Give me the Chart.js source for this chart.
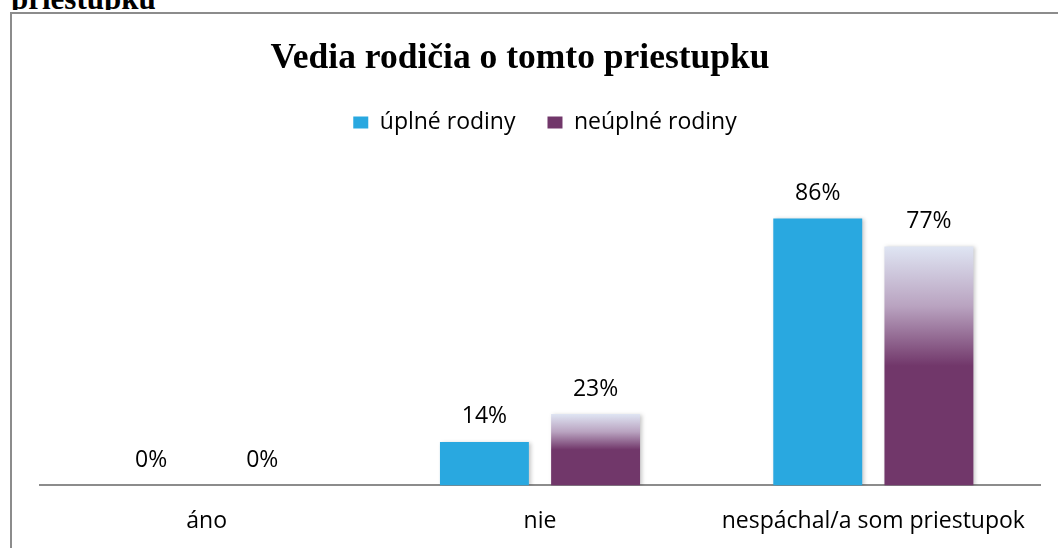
<!DOCTYPE html>
<html>
<head>
<meta charset="utf-8">
<script src="https://cdn.jsdelivr.net/npm/chart.js@4/dist/chart.umd.min.js"></script>
<style>
  html, body { margin: 0; padding: 0; width: 1058px; height: 548px; overflow: hidden; background: #fff; }
  .doc-text { position: absolute; left: 11px; top: -17px; font: bold 31px/31px "Liberation Serif", "Times New Roman", serif; color: #000; }
  .sheet { position: absolute; left: 0; top: 10px; width: 1058px; height: 560px; background: #fff; }
  .frame { position: absolute; left: 10px; top: 2px; width: 1100px; height: 600px; border: 2px solid #8c8c8c; }
  .chart-title { position: absolute; left: 0; top: 38px; width: 1040px; text-align: center;
    font: bold 35.5px/36px "Liberation Serif", "Times New Roman", serif; color: #000; z-index: 2; }
  #chart { position: absolute; left: 11px; top: 13px; }
</style>
</head>
<body>
<div class="doc-text">priestupku</div>
<div class="sheet"><div class="frame"></div></div>
<div class="chart-title">Vedia rodičia o tomto priestupku</div>
<canvas id="chart" width="1068" height="559" style="width:1068px;height:559px"></canvas>

<script>
// ── Data ─────────────────────────────────────────────────────
const categories   = ['áno', 'nie', 'nespáchal/a som priestupok'];
const fullFamily   = [0, 14, 86];
const singleParent = [0, 23, 77];
const seriesNames  = ['úplné rodiny', 'neúplné rodiny'];

const BLUE   = '#29a8e0';
const PURPLE = '#71376a';
const FONT   = '"Open Sans", "Noto Sans", sans-serif';

Chart.defaults.font.family = FONT;
Chart.defaults.font.size   = 23;
Chart.defaults.color       = '#000';

// fade from pale top to purple over the upper half of each bar
function purpleFill(c) {
  const chart = c.chart;
  if (!chart.chartArea || !c.raw) return PURPLE;
  const y    = chart.scales.y;
  const top  = y.getPixelForValue(c.raw);
  const base = y.getPixelForValue(0);
  const g = chart.ctx.createLinearGradient(0, top, 0, base);
  g.addColorStop(0,    '#dfe5f3');
  g.addColorStop(0.25, '#b9a3c0');
  g.addColorStop(0.5,  PURPLE);
  g.addColorStop(1,    PURPLE);
  return g;
}

// ── Plugins ──────────────────────────────────────────────────
const barShadow = {
  id: 'barShadow',
  beforeDatasetDraw(chart) {
    const ctx = chart.ctx;
    ctx.save();
    ctx.shadowColor   = 'rgba(0,0,0,0.22)';
    ctx.shadowBlur    = 4;
    ctx.shadowOffsetX = 2;
    ctx.shadowOffsetY = 1;
  },
  afterDatasetDraw(chart) { chart.ctx.restore(); }
};

const valueLabels = {
  id: 'valueLabels',
  afterDatasetsDraw(chart) {
    const ctx = chart.ctx;
    ctx.save();
    ctx.font = '23px ' + FONT;
    ctx.fillStyle = '#000';
    ctx.textAlign = 'center';
    ctx.textBaseline = 'middle';
    chart.data.datasets.forEach((ds, i) => {
      chart.getDatasetMeta(i).data.forEach((bar, j) => {
        ctx.fillText(ds.data[j] + '%', bar.x, bar.y - 25);
      });
    });
    ctx.restore();
  }
};

// legend sits a little right of the plot centre
const legendNudge = {
  id: 'legendNudge',
  afterLayout(chart) {
    chart.legend.left  += 5;
    chart.legend.right += 5;
  }
};

// ── Chart ────────────────────────────────────────────────────
new Chart(document.getElementById('chart'), {
  type: 'bar',
  data: {
    labels: categories,
    datasets: [
      { label: seriesNames[0], data: fullFamily,   backgroundColor: BLUE },
      { label: seriesNames[1], data: singleParent, backgroundColor: purpleFill }
    ]
  },
  options: {
    responsive: false,
    animation: false,
    categoryPercentage: 0.667,
    barPercentage: 0.8,
    layout: { padding: { top: 66, left: 29, right: 39, bottom: 15 } },
    plugins: {
      legend: {
        position: 'top',
        labels: { boxWidth: 15, boxHeight: 12, padding: 32, color: '#000', font: { size: 23 } }
      },
      tooltip: { enabled: false }
    },
    scales: {
      x: {
        grid: { display: false, drawTicks: false },
        border: { display: true, color: '#8c8c8c', width: 2 },
        ticks: { padding: 22, color: '#000', font: { size: 23 } }
      },
      y: { display: false, min: 0, max: 110 }
    }
  },
  plugins: [barShadow, valueLabels, legendNudge]
});
</script>
</body>
</html>
